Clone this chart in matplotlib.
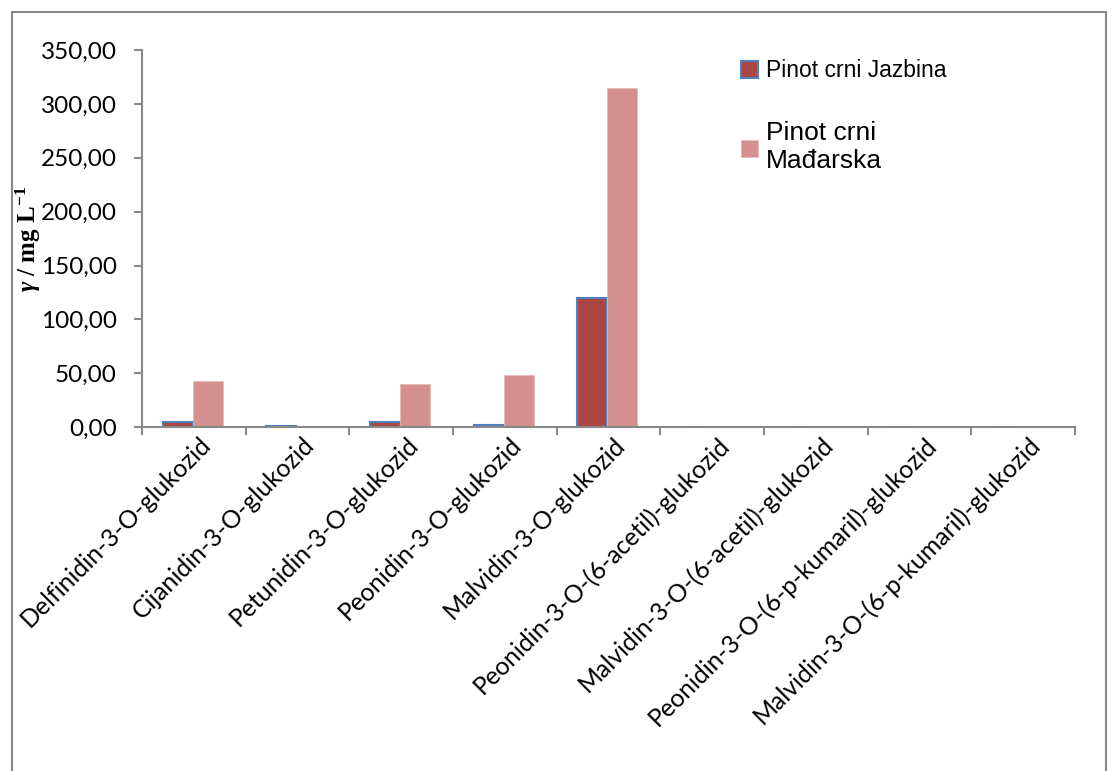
import numpy as np
import matplotlib.pyplot as plt
from matplotlib.transforms import ScaledTranslation

# categories and values (mg/L)
kategorije = ["Delfinidin-3-O-glukozid", "Cijanidin-3-O-glukozid", "Petunidin-3-O-glukozid",
              "Peonidin-3-O-glukozid", "Malvidin-3-O-glukozid", "Peonidin-3-O-(6-acetil)-glukozid",
              "Malvidin-3-O-(6-acetil)-glukozid", "Peonidin-3-O-(6-p-kumaril)-glukozid",
              "Malvidin-3-O-(6-p-kumaril)-glukozid"]
jazbina = [5.0, 1.0, 4.5, 2.0, 120.0, 0, 0, 0, 0]
madarska = [43.0, 0, 40.0, 48.0, 315.0, 0, 0, 0, 0]
yticks = [0, 50, 100, 150, 200, 250, 300, 350]

plt.rcParams['font.family'] = ['Lato', 'DejaVu Sans']
plt.rcParams['mathtext.fontset'] = 'custom'
plt.rcParams['mathtext.rm'] = 'Liberation Serif:bold'
plt.rcParams['mathtext.it'] = 'Liberation Serif:italic:bold'
plt.rcParams['mathtext.bf'] = 'Liberation Serif:bold'

fig = plt.figure(figsize=(11.18, 7.71), dpi=100)
# outer frame like the spreadsheet chart area
fig.patches.append(plt.Rectangle((0.011, -0.01), 0.978, 0.995, transform=fig.transFigure,
                                 fill=False, edgecolor='#888888', linewidth=1.5))
ax = fig.add_axes([0.127, 0.446, 0.8345, 0.489])

x = np.arange(len(kategorije))
w = 0.29
ax.bar(x - 0.155, jazbina, w, color='#A94643', edgecolor='#4F81BD', linewidth=1.5,
       label='Pinot crni Jazbina')
ax.bar(x + 0.135, madarska, w, color='#D4908F', edgecolor='#E6B9B8', linewidth=0.6,
       label='Pinot crni\nMađarska')

ax.set_xlim(-0.5, len(kategorije) - 0.5)
ax.set_ylim(0, 350)
ax.set_yticks(yticks)
ax.set_yticklabels([f"{v:.2f}".replace('.', ',') for v in yticks], fontsize=17.5)
ax.set_xticks(np.arange(len(kategorije) + 1) - 0.5, minor=False)
ax.set_xticklabels([])
ax.set_xticks(x, minor=True)
ax.set_xticklabels(kategorije, minor=True, rotation=45, ha='right', va='top',
                   rotation_mode='anchor', fontsize=17.8)
ax.tick_params(axis='x', which='minor', length=0, pad=4)
ax.tick_params(axis='x', which='major', length=6, direction='out', color='#888888', width=1.5)
ax.tick_params(axis='y', length=6, direction='out', color='#888888', width=1.5, pad=12)
# nudge the slanted labels to the right a little
shift = ScaledTranslation(5 / 100, 0, fig.dpi_scale_trans)
for lab in ax.get_xticklabels(minor=True):
    lab.set_transform(lab.get_transform() + shift)

for s in ['top', 'right']:
    ax.spines[s].set_visible(False)
for s in ['left', 'bottom']:
    ax.spines[s].set_color('#888888')
    ax.spines[s].set_linewidth(1.5)

ax.set_ylabel(r'$\gamma$ / mg L$^{-1}$', fontsize=18, fontfamily='Liberation Serif',
              fontweight='bold')
ax.yaxis.set_label_coords(-0.106, 0.5)

leg = ax.legend(loc='upper left', bbox_to_anchor=(0.62, 1.03), frameon=False,
                labelspacing=1.7, handlelength=0.75, handleheight=0.75, handletextpad=0.35,
                prop={'family': 'Liberation Sans', 'size': 16.5})
leg.get_texts()[1].set_fontsize(19)

fig.savefig('out.png', dpi=100)
